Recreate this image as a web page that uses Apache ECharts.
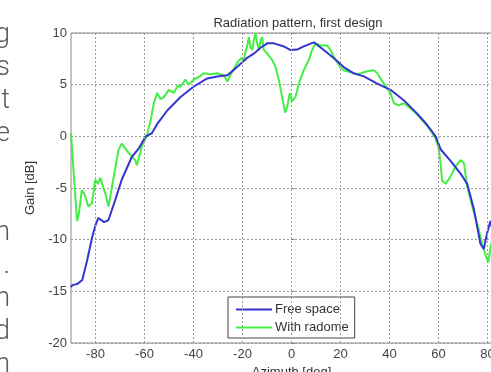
<!DOCTYPE html>
<html>
<head>
<meta charset="utf-8">
<script src="https://cdn.jsdelivr.net/npm/echarts@6/dist/echarts.min.js"></script>
<style>
  html, body { margin: 0; padding: 0; background: #fff; }
  #main { width: 491px; height: 372px; }
</style>
</head>
<body>
<div id="main"></div>
<script>
// axis ticks
var xTicks = [-80, -60, -40, -20, 0, 20, 40, 60, 80];
var yTicks = [-20, -15, -10, -5, 0, 5, 10];

// Free space (blue)
var freeAz = [-90, -89.5, -87.5, -85.4, -83.4, -81.3, -80, -78.8, -76.5, -74.7, -72, -69.3, -65.2,
  -62.4, -59.5, -57, -54.8, -50.7, -45.3, -40, -34.4, -30.3, -26.2, -22.2, -18.1, -15.4, -12.5,
  -9.9, -7.2, -3.1, -0.4, 2.3, 5, 9.1, 13.2, 17.3, 21.3, 25.4, 29.5, 35, 40.4, 45.8, 51.3, 55.4,
  58.8, 61, 65, 69, 71.7, 74.4, 77.1, 78.5, 79.8, 81.2, 84, 90];
var freeGain = [-14.6, -14.4, -14.3, -13.9, -12.0, -9.7, -8.6, -7.9, -8.3, -8.1, -6.2, -4.2, -2.0,
  -1.2, 0.0, 0.3, 1.2, 2.5, 3.8, 4.8, 5.6, 5.8, 5.9, 6.7, 7.6, 8.0, 8.6,
  9.0, 9.0, 8.7, 8.35, 8.4, 8.7, 9.1, 8.35, 7.55, 6.7, 6.1, 5.8, 5.1, 4.5, 3.5, 2.2, 1.1,
  0.0, -1.3, -2.4, -3.6, -4.6, -7.0, -10.4, -10.9, -9.4, -8.2, -11, -15];

// With radome (green)
var radAz = [-90, -89.5, -88.5, -87.5, -86.8, -85.6, -84.5, -82.9, -81.5, -80.1, -79, -78, -76.8,
  -76, -74.7, -73, -70.6, -69.3, -66.5, -63.8, -63.1, -61.1, -59.1, -57.6, -56.2, -54.8, -53.5,
  -52.1, -50.1, -48, -46.5, -45.3, -43.3, -42, -39.9, -37.5, -35.8, -33, -30.3, -27.6, -26.2, -25,
  -22.2, -20.5, -19.5, -18.8, -18.1, -17.4, -16.7, -16, -15.3, -14.7, -14, -13.3, -12.6, -12,
  -11.3, -9.9, -7.9, -6.5, -5.2, -3.8, -2.6, -1.7, -0.7, 0.3, 1.6, 3, 5, 7.1, 8.4, 9.8, 11.8,
  14.6, 15.9, 18, 20, 21.3, 24.1, 26.8, 30.9, 33.6, 35, 37.7, 40.4, 41.8, 43.8, 45.8, 48.6, 51.3,
  54, 56.7, 58.8, 60.1, 60.8, 61.5, 62.9, 64.9, 67, 69, 70.4, 71.7, 73.8, 76.5, 77.8, 79.2, 80.3,
  81.2, 82.5, 85, 90];
var radGain = [0.3, -1.5, -5, -8.2, -7.5, -5.2, -5.6, -6.8, -6.5, -4.2, -4.6, -4.0, -5.0,
  -5.5, -6.8, -4.5, -1.3, -0.7, -1.6, -2.3, -2.8, -1.0, 0.0, 1.4, 3.2, 4.2, 3.6,
  3.8, 4.5, 4.2, 4.9, 4.8, 5.5, 5.0, 5.5, 5.8, 6.1, 6.0, 6.1, 5.9, 5.3, 5.9,
  7.1, 7.6, 7.3, 8.2, 8.7, 9.6, 8.6, 8.35, 9.4, 10.0, 9.0, 8.35, 9.3, 9.6,
  8.35, 8.0, 7.4, 6.7, 5.5, 3.8, 2.3, 2.9, 4.2, 3.4, 3.8, 5.1, 6.4, 7.4, 8.35, 9.0, 8.8,
  8.8, 8.35, 7.4, 6.7, 6.4, 6.2, 6.0, 6.3, 6.4, 6.1, 5.1, 4.2, 3.2, 3.0, 3.2, 2.7, 2.1,
  1.4, 0.6, -0.2, -1.2, -2.5, -4.3, -4.6, -3.9, -2.9, -2.3, -2.6, -4.8, -6.8, -9.1, -10.4, -11.5, -12.2,
  -10.8, -9.5, -12, -16];

// the left column of page text, cut off at the image edge
var sideLetters = ['g', 's', 't', 'e', '', '', 'n', '.', 'n', 'd', 'n'];

function pairs(xs, ys) {
  var out = [];
  for (var i = 0; i < xs.length; i++) out.push([xs[i], ys[i]]);
  return out;
}

var chart = echarts.init(document.getElementById('main'));
var FONT = '"Liberation Sans", Arial, sans-serif';
var GRID_STYLE = { color: '#9a9a9a', type: [2, 2], width: 1 };

var sideText = [];
for (var i = 0; i < sideLetters.length; i++) {
  if (!sideLetters[i]) continue;
  sideText.push({
    type: 'text',
    style: {
      x: 10, y: 22 + i * 33, text: sideLetters[i],
      align: 'right', verticalAlign: 'alphabetic',
      fill: '#5a5a5a', font: '300 27px Roboto, sans-serif'
    }
  });
}

// vertical grid only at the labelled ticks (every 20 deg)
var vGrid = xTicks.map(function (v) { return { xAxis: v }; });

chart.setOption({
  animation: false,
  backgroundColor: '#fff',
  title: {
    text: 'Radiation pattern, first design',
    left: 293, top: 12, textAlign: 'center',
    textStyle: { fontSize: 13, fontWeight: 'normal', color: '#333', fontFamily: FONT }
  },
  grid: {
    left: 71, top: 33, right: -21, bottom: 29,
    outerBoundsMode: 'none', containLabel: false,
    show: true, borderColor: '#8a8a8a', borderWidth: 1
  },
  legend: {
    orient: 'vertical', left: 228, top: 297,
    itemWidth: 36, itemHeight: 2, itemGap: 5, icon: 'rect',
    padding: [6, 6, 4, 8],
    backgroundColor: '#fff', borderColor: '#444', borderWidth: 1,
    textStyle: { fontSize: 13, color: '#333', fontFamily: FONT, padding: [0, 0, 0, -2] },
    data: ['Free space', 'With radome']
  },
  xAxis: {
    type: 'value', min: -90, max: 90, interval: 10,
    name: 'Azimuth [deg]', nameLocation: 'middle', nameGap: 19,
    nameTextStyle: { fontSize: 13, color: '#333', fontFamily: FONT },
    axisLine: { show: false },
    axisTick: { show: false },
    axisLabel: {
      fontSize: 13, color: '#444', fontFamily: FONT, margin: 5,
      formatter: function (v) { return xTicks.indexOf(v) >= 0 ? String(v) : ''; }
    },
    splitLine: { show: false }
  },
  yAxis: {
    type: 'value', min: -20, max: 10, interval: 5,
    name: 'Gain [dB]', nameLocation: 'middle', nameGap: 32,
    nameTextStyle: { fontSize: 13, color: '#333', fontFamily: FONT },
    axisLine: { show: false },
    axisTick: { show: true, inside: true, length: 3, lineStyle: { color: '#777' } },
    axisLabel: {
      fontSize: 13, color: '#444', fontFamily: FONT, margin: 4,
      formatter: function (v) { return yTicks.indexOf(v) >= 0 ? String(v) : ''; }
    },
    splitLine: { show: true, lineStyle: GRID_STYLE }
  },
  graphic: sideText,
  series: [
    {
      name: 'grid', type: 'line', data: [], z: 1,
      markLine: {
        silent: true, symbol: 'none', label: { show: false },
        lineStyle: GRID_STYLE, data: vGrid
      }
    },
    {
      name: 'Free space', type: 'line', showSymbol: false, symbol: 'none', z: 3,
      data: pairs(freeAz, freeGain),
      lineStyle: { color: '#3535d0', width: 2 },
      itemStyle: { color: '#3535d0' }
    },
    {
      name: 'With radome', type: 'line', showSymbol: false, symbol: 'none', z: 2,
      data: pairs(radAz, radGain),
      lineStyle: { color: '#44ee44', width: 2 },
      itemStyle: { color: '#44ee44' }
    }
  ]
});
</script>
</body>
</html>
